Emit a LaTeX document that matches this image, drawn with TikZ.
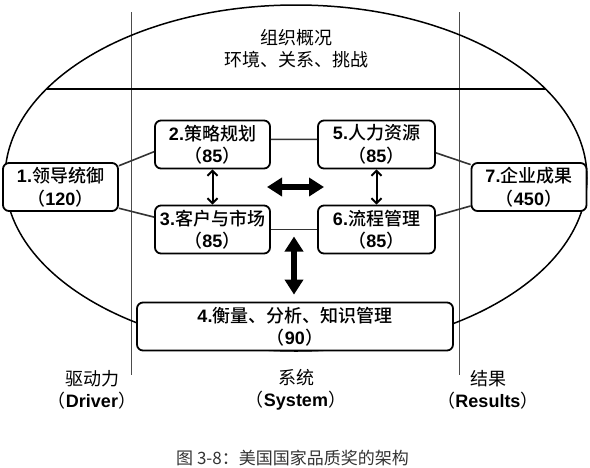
\documentclass[tikz,border=0pt]{standalone}
\usepackage{fontspec}
\setmainfont{Noto Sans CJK SC}
\newfontfamily\cjkm{Noto Sans CJK SC Medium}
\newfontfamily\lat{Liberation Sans}
\usepackage{tikz}
\usetikzlibrary{arrows.meta,positioning,calc}

\begin{document}
\begin{tikzpicture}[x=1pt, y=-1pt,
    bx/.style={draw, rounded corners=6pt, line width=1.8pt, fill=white, minimum width=115pt,
      minimum height=48pt, inner sep=2pt, align=center, font=\fontsize{18}{22.5}\selectfont\cjkm},
    ln/.style={line width=1.6pt, black!80},
    sm/.style={{Straight Barb[length=5pt,width=10pt]}-{Straight Barb[length=5pt,width=10pt]}, line width=2pt},
    big/.style={{Triangle[length=15pt,width=18pt]}-{Triangle[length=15pt,width=18pt]}, line width=5.5pt},
    txt/.style={font=\fontsize{18}{22}\selectfont, align=center},
  ]
  \useasboundingbox (0,0) rectangle (590,467);
  % frame: columns, ellipse and its chord
  \draw[line width=0.6pt, black!70] (131.5,12) -- (131.5,375);
  \draw[line width=0.6pt, black!70] (459.5,12) -- (459.5,375);
  \draw[line width=1.5pt] (296,178) ellipse [x radius=291pt, y radius=173pt];
  \begin{scope}
    \clip (296,178) ellipse [x radius=291pt, y radius=173pt];
    \draw[line width=1.6pt] (0,89) -- (590,89);
  \end{scope}
  \node[txt] (org) at (296,49) {组织概况\\环境、关系、挑战};

  % boxes
  \node[bx] (lead) at (60.5,187)    {{\lat\bfseries 1.}领导统御\\（{\lat\bfseries 120}）};
  \node[bx] (plan) at (212.5,144.5) {{\lat\bfseries 2.}策略规划\\（{\lat\bfseries 85}）};
  \node[bx] (cust) at (212.5,229.5) {{\lat\bfseries 3.}客户与市场\\（{\lat\bfseries 85}）};
  \node[bx, minimum width=316pt] (meas) at (295,326.5) {{\lat\bfseries 4.}衡量、分析、知识管理\\（{\lat\bfseries 90}）};
  \node[bx, minimum width=117pt] (hr)   at (376.5,144.5) {{\lat\bfseries 5.}人力资源\\（{\lat\bfseries 85}）};
  \node[bx, minimum width=117pt] (proc) at (376.5,229.5) {{\lat\bfseries 6.}流程管理\\（{\lat\bfseries 85}）};
  \node[bx] (res)  at (529,187)     {{\lat\bfseries 7.}企业成果\\（{\lat\bfseries 450}）};

  % links
  \draw[ln] (lead.20) -- (plan.187);
  \draw[ln] (lead.340) -- (cust.168);
  \draw[ln] (plan.5) -- (hr.175);
  \draw[ln] (cust.east) -- (proc.west);
  \draw[ln] (hr.352) -- (res.159);
  \draw[ln] (proc.13) -- (res.198);

  % arrows
  \draw[sm] (plan.south) -- (cust.north);
  \draw[sm] (hr.south) -- (proc.north);
  \coordinate (aL) at (267,187);
  \coordinate (aR) at (324,187);
  \draw[big] (aL) -- (aR);
  \coordinate (mid) at ($(cust.east)!0.5!(proc.west)$);
  \draw[big, line width=6pt, shorten <=7pt, shorten >=7pt] (mid) -- (mid |- meas.north);

  % column labels
  \node[txt] (drv) at (92,389.5)  {驱动力\\（{\lat\bfseries Driver}）};
  \node[txt] (sys) at (296,389.5) {系统\\（{\lat\bfseries System}）};
  \node[txt] (rsl) at (488,389.5) {结果\\（{\lat\bfseries Results}）};
  \node[txt, font=\fontsize{17}{20}\selectfont, black!80] (cap) at (292.5,458) {图 3-8：美国国家品质奖的架构};
\end{tikzpicture}
\end{document}
